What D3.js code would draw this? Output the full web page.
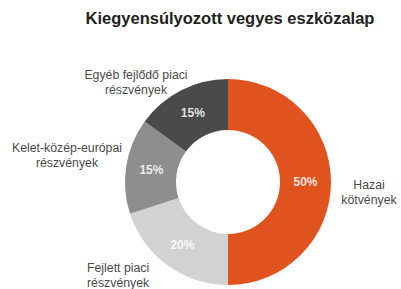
<!DOCTYPE html>
<html><head><meta charset="utf-8">
<script src="https://cdn.jsdelivr.net/npm/d3@7"></script>
<style>body{margin:0;background:#fff}svg{display:block}</style>
</head><body>
<svg id="c" width="401" height="289"></svg>
<script>
const title = "Kiegyensúlyozott vegyes eszközalap";
const categories = ["Hazai kötvények", "Fejlett piaci részvények", "Kelet-közép-európai részvények", "Egyéb fejlődő piaci részvények"];
const values = [50, 20, 15, 15];
const colors = ["#e0531f", "#d2d2d2", "#8e8e8e", "#4a4a4a"];
const labelLines = [["Hazai", "kötvények"], ["Fejlett piaci", "részvények"], ["Kelet-közép-európai", "részvények"], ["Egyéb fejlődő piaci", "részvények"]];
const labelPos = [[369, 189, "middle"], [87, 272, "start"], [67, 152, "middle"], [136, 79, "middle"]];

const svg = d3.select("#c");
svg.append("text").attr("x", 230).attr("y", 24).attr("text-anchor", "middle")
  .attr("font-family", "Liberation Sans, Arial, sans-serif").attr("font-weight", "bold")
  .attr("font-size", 16.5).attr("fill", "#222").text(title);

const cx = 228, cy = 182, R = 103, r = 52;
const pie = d3.pie().sort(null).value(d => d)(values);
const arc = d3.arc().innerRadius(r).outerRadius(R);
const g = svg.append("g").attr("transform", `translate(${cx},${cy})`);
g.selectAll("path").data(pie).join("path").attr("d", arc).attr("fill", (d, i) => colors[i]);
const lab = d3.arc().innerRadius((r + R) / 2).outerRadius((r + R) / 2);
g.selectAll("text").data(pie).join("text")
  .attr("transform", d => `translate(${lab.centroid(d)})`)
  .attr("dy", "0.35em").attr("text-anchor", "middle")
  .attr("font-family", "Liberation Sans, Arial, sans-serif").attr("font-weight", "bold")
  .attr("font-size", 12).attr("fill", "#fff").attr("fill-opacity", 0.85)
  .text(d => d.value + "%");

labelLines.forEach((lines, i) => {
  const [x, y, anchor] = labelPos[i];
  const t = svg.append("text").attr("x", x).attr("y", y).attr("text-anchor", anchor)
    .attr("font-family", "Liberation Sans, Arial, sans-serif").attr("font-size", 12.3)
    .attr("fill", "#4a4a4a");
  lines.forEach((l, j) => t.append("tspan").attr("x", x).attr("dy", j ? 15 : 0).text(l));
});
</script>
</body></html>
